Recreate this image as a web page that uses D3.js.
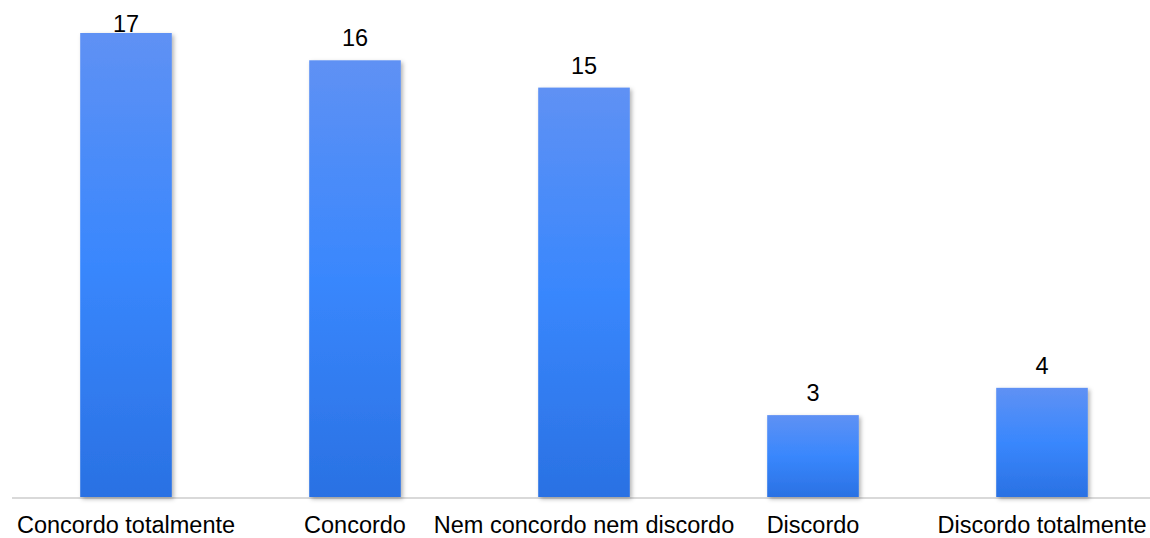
<!DOCTYPE html>
<html>
<head>
<meta charset="utf-8">
<script src="https://cdn.jsdelivr.net/npm/d3@7"></script>
<style>
  html, body { margin: 0; padding: 0; background: #fff; }
  svg { display: block; font-family: "Liberation Sans", Arial, sans-serif; }
</style>
</head>
<body>
<div id="chart"></div>
<script>
// --- Data ---
const categories = ["Concordo totalmente", "Concordo", "Nem concordo nem discordo", "Discordo", "Discordo totalmente"];
const values = [17, 16, 15, 3, 4];

const W = 1150, H = 538;
const baseY = 497;
const fontSize = 23.5;

const svg = d3.select("#chart").append("svg")
    .attr("width", W)
    .attr("height", H);

const defs = svg.append("defs");
const grad = defs.append("linearGradient")
    .attr("id", "bar-grad")
    .attr("x1", "0%").attr("y1", "0%")
    .attr("x2", "0%").attr("y2", "100%");
grad.append("stop").attr("offset", "0%").attr("stop-color", "#5f91f4");
grad.append("stop").attr("offset", "50%").attr("stop-color", "#3987fd");
grad.append("stop").attr("offset", "100%").attr("stop-color", "#2a71e3");

const shadow = defs.append("filter")
    .attr("id", "shadow")
    .attr("x", "-10%").attr("y", "-10%")
    .attr("width", "130%").attr("height", "130%");
shadow.append("feDropShadow")
    .attr("dx", 2).attr("dy", 2)
    .attr("stdDeviation", 2)
    .attr("flood-color", "#000")
    .attr("flood-opacity", 0.3);

// scales
const x = d3.scaleBand()
    .domain(categories)
    .range([11.5, 1156.5])
    .paddingInner(0.6)
    .paddingOuter(0.3);

const y = d3.scaleLinear()
    .domain([0, 17])
    .range([baseY, 33]);

// axis line
svg.append("line")
    .attr("x1", 12).attr("x2", W)
    .attr("y1", baseY + 1).attr("y2", baseY + 1)
    .attr("stroke", "#d9d9d9")
    .attr("stroke-width", 2);

// bars
svg.selectAll(".bar")
    .data(values)
    .enter()
    .append("rect")
    .attr("class", "bar")
    .attr("x", (d, i) => x(categories[i]))
    .attr("y", d => y(d))
    .attr("width", x.bandwidth())
    .attr("height", d => baseY - y(d))
    .attr("fill", "url(#bar-grad)")
    .attr("filter", "url(#shadow)");

// value labels (top one is pushed down to stay inside the plot)
svg.selectAll(".val")
    .data(values)
    .enter()
    .append("text")
    .attr("class", "val")
    .attr("x", (d, i) => x(categories[i]) + x.bandwidth() / 2)
    .attr("y", d => Math.max(y(d) - 14, 32))
    .attr("text-anchor", "middle")
    .attr("font-size", fontSize)
    .attr("fill", "#000")
    .text(d => d);

// category axis
const xAxis = d3.axisBottom(x).tickSize(0).tickPadding(0);
const gx = svg.append("g")
    .attr("transform", `translate(0,${baseY})`)
    .call(xAxis);
gx.select(".domain").remove();
gx.selectAll("text")
    .attr("y", 36)
    .attr("dy", 0)
    .attr("font-size", fontSize)
    .attr("font-family", "Liberation Sans, Arial, sans-serif")
    .attr("fill", "#000");
</script>
</body>
</html>
